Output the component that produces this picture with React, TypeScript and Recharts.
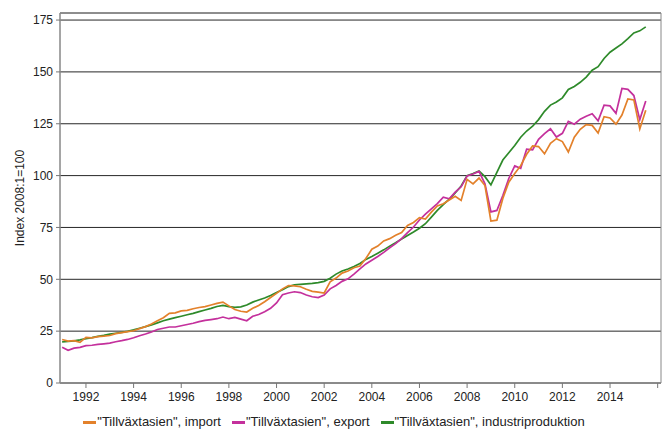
import React from "react";
import { LineChart, Line, XAxis, YAxis, CartesianGrid, ReferenceArea } from "recharts";

const dates: number[] = [];
for (let y = 1991; y <= 2015; y++) {
  for (let q = 0; q < 4; q++) {
    const d = y + q * 0.25;
    if (d <= 2015.5) dates.push(d);
  }
}

const industri = [
  19.8, 20.0, 20.3, 20.8, 21.4, 21.9, 22.5, 23.0, 23.6, 24.0, 24.4, 24.9,
  25.6, 26.4, 27.2, 28.0, 29.0, 30.0, 30.8, 31.5, 32.2, 32.9, 33.6, 34.4,
  35.2, 36.0, 36.9, 37.4, 36.8, 36.5, 36.7, 37.6, 39.0, 40.0, 41.0, 42.2,
  43.6, 45.0, 46.5, 47.3, 47.6, 47.8, 48.0, 48.4, 49.0, 50.5, 52.5, 54.0,
  55.0, 56.2, 57.6, 59.6, 61.0, 62.6, 64.2, 66.0, 67.6, 69.4, 71.1, 72.8,
  74.6, 76.8, 80.0, 83.2, 86.0, 88.6, 91.6, 95.0, 100.0, 101.0, 102.2, 99.5,
  95.5, 101.5, 107.5, 111.0, 114.5, 118.5, 121.5, 123.8, 127.0, 131.0, 134.0, 135.5,
  137.5, 141.5, 143.0, 145.0, 147.5, 150.8, 152.5, 156.5, 159.5, 161.5, 163.5, 166.0,
  168.8, 169.8, 171.7,
];

const importVals = [
  21.0, 20.2, 20.4, 19.6, 22.0, 21.8, 22.4, 22.6, 22.9, 23.8, 24.3, 24.8,
  25.2, 26.2, 27.2, 28.4, 30.0, 31.5, 33.6, 33.8, 34.8, 35.0, 35.8, 36.4,
  36.8, 37.6, 38.4, 39.0, 37.2, 35.4, 34.6, 34.2, 36.0, 37.4, 39.2, 41.2,
  43.2, 45.4, 47.0, 46.8, 46.4, 45.2, 44.2, 43.8, 43.4, 48.8, 50.6, 53.0,
  54.0, 55.6, 56.4, 60.0, 64.5, 66.0, 68.5, 69.6, 71.2, 72.5, 76.0, 77.4,
  79.7, 79.0, 82.4, 85.4, 86.4, 88.2, 90.0, 88.0, 98.2, 96.0, 98.8, 95.2,
  78.1, 78.5, 89.0, 96.8, 101.0, 104.8, 110.3, 114.3, 114.0, 110.5, 115.6, 117.8,
  116.4, 111.4, 118.5, 122.3, 124.6, 124.2, 120.5, 128.4, 127.8, 124.8, 129.2, 137.0,
  136.5, 122.5, 131.5,
];

const exportVals = [
  17.2, 15.8, 16.8, 17.2, 18.0, 18.2, 18.6, 18.9, 19.2, 19.9, 20.4, 21.0,
  21.8, 22.8, 23.6, 24.6, 25.8, 26.4, 27.0, 27.0, 27.6, 28.2, 28.8, 29.6,
  30.2, 30.6, 31.0, 31.8, 31.0, 31.6, 30.8, 30.0, 32.2, 33.0, 34.4, 36.0,
  38.6, 42.6, 43.4, 44.0, 43.6, 42.4, 41.6, 41.2, 42.4, 45.4, 47.0, 49.0,
  50.2, 52.5, 55.0, 57.4, 59.2, 61.0, 63.0, 65.2, 67.2, 69.6, 72.5, 75.2,
  78.6, 81.4, 84.0, 86.5, 89.6, 88.8, 92.0, 94.6, 99.8, 100.8, 102.0, 96.0,
  82.5, 83.2, 90.4, 98.6, 104.7, 103.5, 112.7, 112.4, 117.5, 120.2, 122.6, 118.6,
  120.4, 126.2, 124.8, 127.2, 128.6, 129.8, 126.4, 134.0, 133.6, 130.0, 142.0, 141.6,
  138.6, 127.0, 136.0,
];

const xTicks = [1992, 1994, 1996, 1998, 2000, 2002, 2004, 2006, 2008, 2010, 2012, 2014, 2016];
const yTicks = [0, 25, 50, 75, 100, 125, 150, 175];

const seriesNames = {
  imp: '"Tillväxtasien", import',
  exp: '"Tillväxtasien", export',
  ind: '"Tillväxtasien", industriproduktion',
};

const colors = { imp: "#e3812b", exp: "#c4309c", ind: "#2e8a2a" };

const data = dates.map((d, i) => ({
  date: d,
  imp: importVals[i],
  exp: exportVals[i],
  ind: industri[i],
}));

const FONT = "'Liberation Sans', Arial, sans-serif";

const LegendRow = () => (
  <div
    style={{
      position: "absolute",
      left: 0,
      top: 414,
      width: 668,
      display: "flex",
      justifyContent: "center",
      fontFamily: FONT,
      fontSize: 13,
      lineHeight: "16px",
      color: "#222",
      gap: 11,
      whiteSpace: "nowrap",
    }}
  >
    {(["imp", "exp", "ind"] as const).map((k) => (
      <span key={k} style={{ display: "inline-flex", alignItems: "center" }}>
        <span
          style={{
            display: "inline-block",
            width: 13,
            height: 3,
            background: colors[k],
            marginRight: 1,
          }}
        />
        {seriesNames[k]}
      </span>
    ))}
  </div>
);

export default function App() {
  return (
    <div style={{ position: "absolute", left: 0, top: 0, width: 668, height: 432, background: "#fff" }}>
      <LineChart
        width={668}
        height={432}
        data={data}
        margin={{ top: 13, right: 7, bottom: 29, left: 0 }}
      >
        <CartesianGrid horizontal vertical={false} stroke="#000" strokeOpacity={0.85} />
        <ReferenceArea
          x1={1990.91}
          x2={2016.14}
          y1={0}
          y2={178.4}
          fill="none"
          stroke="#888"
          strokeWidth={1}
          ifOverflow="visible"
        />
        <XAxis
          dataKey="date"
          type="number"
          domain={[1990.91, 2016.14]}
          allowDataOverflow
          ticks={xTicks}
          tickFormatter={(v: number) => (v === 2016 ? "" : String(v))}
          tick={{ fontSize: 12, fill: "#222", fontFamily: FONT }}
          tickLine={{ stroke: "#777" }}
          axisLine={{ stroke: "#888" }}
          tickSize={5}
          tickMargin={4}
          height={20}
          interval={0}
        />
        <YAxis
          type="number"
          domain={[0, 178.4]}
          allowDataOverflow
          ticks={yTicks}
          tick={{ fontSize: 12, fill: "#222", fontFamily: FONT }}
          tickLine={{ stroke: "#777" }}
          axisLine={{ stroke: "#888" }}
          tickSize={4}
          tickMargin={3}
          width={60}
          interval={0}
          label={{
            value: "Index 2008:1=100",
            angle: -90,
            position: "insideLeft",
            offset: 20,
            style: { textAnchor: "middle", fontSize: 12, fill: "#222", fontFamily: FONT },
          }}
        />
        <Line type="linear" dataKey="ind" stroke={colors.ind} strokeWidth={1.7} dot={false} isAnimationActive={false} />
        <Line type="linear" dataKey="exp" stroke={colors.exp} strokeWidth={1.7} dot={false} isAnimationActive={false} />
        <Line type="linear" dataKey="imp" stroke={colors.imp} strokeWidth={1.7} dot={false} isAnimationActive={false} />
      </LineChart>
      <LegendRow />
    </div>
  );
}
